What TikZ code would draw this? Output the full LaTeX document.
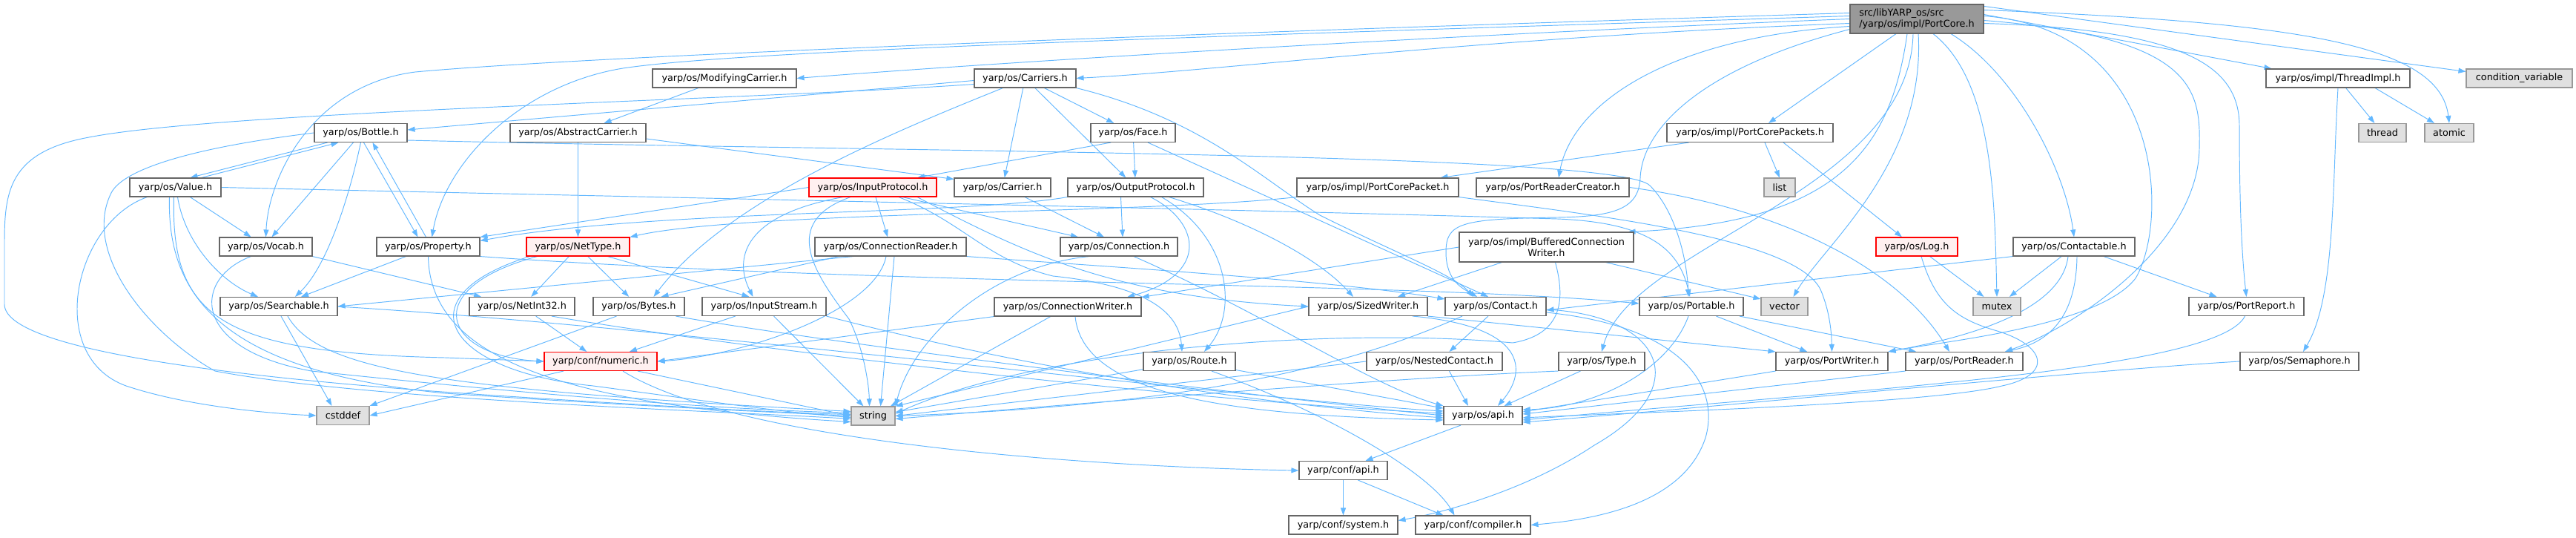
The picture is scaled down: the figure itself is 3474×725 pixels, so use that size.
\documentclass[tikz,border=0pt]{standalone}
\usepackage{fontspec}
\setmainfont{DejaVu Sans}
\usetikzlibrary{arrows.meta}
\pgfdeclarelayer{bg}
\pgfsetlayers{bg,main}
\definecolor{edgeblue}{HTML}{63B8FF}
\definecolor{bordergray}{HTML}{666666}
\definecolor{extfill}{HTML}{E0E0E0}
\definecolor{extborder}{HTML}{999999}
\definecolor{redfill}{HTML}{FFF0F0}
\definecolor{rootfill}{HTML}{999999}
\tikzset{
 box/.style={rectangle, inner xsep=3pt, inner ysep=0pt, minimum height=25pt, font=\fontsize{12.8}{15}\selectfont, line width=1.1pt},
 nd/.style={box, draw=bordergray, fill=white},
 ext/.style={box, draw=extborder, fill=extfill},
 redn/.style={box, draw=red, fill=redfill},
 rootn/.style={box, draw=bordergray, fill=rootfill},
 e/.style={draw=edgeblue, line width=0.95pt, -{Triangle[length=10pt,width=7pt]}},
}
\begin{document}
\begin{tikzpicture}[x=1pt,y=-1pt]
\begin{pgfonlayer}{bg}
\fill[white] (0,0) rectangle (3474,725);
\end{pgfonlayer}
\useasboundingbox (0,0) rectangle (3474,725);
% nodes
\node[rootn, minimum width=180pt, minimum height=39pt, align=left] (root) at (2585,25.5) {src/libYARP\_os/src\\/yarp/os/impl/PortCore.h};
\node[nd, minimum width=194pt] (modc) at (977,105.5) {yarp/os/ModifyingCarrier.h};
\node[nd, minimum width=137pt] (carriers) at (1382.5,105.5) {yarp/os/Carriers.h};
\node[nd, minimum width=194pt] (thimpl) at (3153,105.5) {yarp/os/impl/ThreadImpl.h};
\node[ext, minimum width=143pt] (condvar) at (3397.5,105.5) {condition\_variable};
\node[nd, minimum width=125pt] (bottle) at (486.5,179) {yarp/os/Bottle.h};
\node[nd, minimum width=183pt] (abscar) at (779.5,179) {yarp/os/AbstractCarrier.h};
\node[nd, minimum width=114pt] (face) at (1528,179) {yarp/os/Face.h};
\node[nd, minimum width=224pt] (pcps) at (2360,179) {yarp/os/impl/PortCorePackets.h};
\node[ext, minimum width=64pt] (thread) at (3213,179) {thread};
\node[ext, minimum width=66pt] (atomic) at (3303,179) {atomic};
\node[nd, minimum width=123pt] (value) at (236.5,252.5) {yarp/os/Value.h};
\node[redn, minimum width=172pt] (inproto) at (1177,252.5) {yarp/os/InputProtocol.h};
\node[nd, minimum width=130pt] (carrier) at (1352,252.5) {yarp/os/Carrier.h};
\node[nd, minimum width=183pt] (outproto) at (1531.5,252.5) {yarp/os/OutputProtocol.h};
\node[nd, minimum width=218pt] (pcp) at (1858,252.5) {yarp/os/impl/PortCorePacket.h};
\node[nd, minimum width=206pt] (prc) at (2094,252.5) {yarp/os/PortReaderCreator.h};
\node[ext, minimum width=42pt] (list) at (2400,252.5) {list};
\node[nd, minimum width=125pt] (vocab) at (358.5,332.5) {yarp/os/Vocab.h};
\node[nd, minimum width=139pt] (property) at (577.5,332.5) {yarp/os/Property.h};
\node[redn, minimum width=139pt] (nettype) at (779.5,332.5) {yarp/os/NetType.h};
\node[nd, minimum width=204pt] (connreader) at (1201,332.5) {yarp/os/ConnectionReader.h};
\node[nd, minimum width=158pt] (conn) at (1509,332.5) {yarp/os/Connection.h};
\node[nd, minimum width=235pt, minimum height=40pt, align=center] (bcw) at (2085.5,333) {yarp/os/impl/BufferedConnection\\Writer.h};
\node[redn, minimum width=110pt] (log) at (2585,332.5) {yarp/os/Log.h};
\node[nd, minimum width=164pt] (contactable) at (2797,332.5) {yarp/os/Contactable.h};
\node[nd, minimum width=158pt] (searchable) at (376,413) {yarp/os/Searchable.h};
\node[nd, minimum width=142pt] (netint) at (704,413) {yarp/os/NetInt32.h};
\node[nd, minimum width=123pt] (bytes) at (861.5,413) {yarp/os/Bytes.h};
\node[nd, minimum width=167pt] (instream) at (1030.5,413) {yarp/os/InputStream.h};
\node[nd, minimum width=198pt] (connwriter) at (1440,413.5) {yarp/os/ConnectionWriter.h};
\node[nd, minimum width=160pt] (sizedw) at (1845,413) {yarp/os/SizedWriter.h};
\node[nd, minimum width=136pt] (contact) at (2017,413) {yarp/os/Contact.h};
\node[nd, minimum width=140pt] (portable) at (2281,413) {yarp/os/Portable.h};
\node[ext, minimum width=63pt] (vector) at (2406.5,413) {vector};
\node[ext, minimum width=64pt] (mutex) at (2693,413) {mutex};
\node[nd, minimum width=155pt] (portreport) at (3029.5,413) {yarp/os/PortReport.h};
\node[redn, minimum width=152pt] (numeric) at (810,487) {yarp/conf/numeric.h};
\node[nd, minimum width=124pt] (route) at (1604,487) {yarp/os/Route.h};
\node[nd, minimum width=183pt] (nested) at (1934.5,487) {yarp/os/NestedContact.h};
\node[nd, minimum width=116pt] (type) at (2160,487) {yarp/os/Type.h};
\node[nd, minimum width=151pt] (portwriter) at (2470.5,487) {yarp/os/PortWriter.h};
\node[nd, minimum width=158pt] (portreader) at (2649,487) {yarp/os/PortReader.h};
\node[nd, minimum width=160pt] (semaphore) at (3101,487) {yarp/os/Semaphore.h};
\node[ext, minimum width=71pt] (cstddef) at (462.5,560) {cstddef};
\node[ext, minimum width=59pt] (string) at (1177.5,560.5) {string};
\node[nd, minimum width=106pt] (osapi) at (2000,560) {yarp/os/api.h};
\node[nd, minimum width=119pt] (confapi) at (1811.5,634) {yarp/conf/api.h};
\node[nd, minimum width=147pt] (system) at (1811.5,707.5) {yarp/conf/system.h};
\node[nd, minimum width=155pt] (compiler) at (1986.5,707.5) {yarp/conf/compiler.h};
% edges
\begin{pgfonlayer}{bg}
% root
\draw[e] ([yshift=8]root.west) .. controls (1600,45) and (800,75) .. (560,97) .. controls (420,115) and (362,240) .. (vocab.north);
\draw[e] ([yshift=4]root.west) .. controls (1600,50) and (1000,68) .. (840,92) .. controls (700,115) and (600,220) .. ([xshift=5]property.north);
\draw[e] (root.west) .. controls (2000,45) and (1400,80) .. (modc.east);
\draw[e] ([yshift=-6]root.west) .. controls (2000,50) and (1650,95) .. (carriers.east);
\draw[e] ([yshift=-10]root.west) .. controls (2250,50) and (2120,140) .. ([xshift=8]prc.north);
\draw[e] ([yshift=-14]root.west) .. controls (2300,90) and (2215,170) .. (2212,240) .. controls (2210,280) and (2180,292) .. (2100,293) .. controls (1970,295) and (1950,300) .. (1950,340) .. controls (1950,380) and (1975,390) .. ([xshift=-25]contact.north);
\draw[e] ([xshift=-28]root.south) -- ([xshift=25]pcps.north);
\draw[e] ([xshift=-13]root.south) .. controls (2550,200) and (2480,300) .. ([xshift=-8]bcw.north east);
\draw[e] ([xshift=-5]root.south) .. controls (2575,260) and (2200,330) .. (type.north);
\draw[e] ([xshift=2]root.south) .. controls (2597,220) and (2460,330) .. ([xshift=12]vector.north);
\draw[e] ([xshift=22]root.south) .. controls (2690,110) and (2690,280) .. (mutex.north);
\draw[e] ([xshift=46]root.south) .. controls (2720,100) and (2785,230) .. (contactable.north);
\draw[e] ([yshift=4]root.east) .. controls (2920,40) and (2925,300) .. (2880,375) .. controls (2830,440) and (2620,460) .. (portwriter.north east);
\draw[e] ([yshift=-2]root.east) .. controls (2960,50) and (2968,120) .. (2966,200) .. controls (2964,330) and (2800,440) .. ([xshift=55]portreader.north);
\draw[e] ([yshift=-6]root.east) .. controls (2950,40) and (3020,90) .. (3020,170) .. controls (3020,300) and (3025,360) .. (portreport.north);
\draw[e] ([yshift=6]root.east) -- ([xshift=8]thimpl.north west);
\draw[e] ([yshift=-3]root.north east) -- ([yshift=9]condvar.west);
\draw[e] ([yshift=12]root.east) .. controls (3100,30) and (3290,60) .. (atomic.north);
% row 1
\draw[e] (modc) -- (abscar);
\draw[e] ([yshift=-3]carriers.west) -- ([yshift=4]bottle.east);
\draw[e] ([yshift=-8]carriers.west) .. controls (1000,135) and (300,150) .. (120,185) .. controls (10,205) and (6,260) .. (6,330) -- (6,410) .. controls (6,470) and (300,510) .. (700,535) .. controls (900,548) and (1050,556) .. ([yshift=2]string.west);
\draw[e] ([xshift=-30]carriers.south) .. controls (1200,180) and (980,270) .. ([xshift=20]bytes.north);
\draw[e] (carriers) -- (carrier);
\draw[e] (carriers) -- (outproto);
\draw[e] (carriers) -- (face);
\draw[e] (carriers.south east) .. controls (1620,160) and (1700,240) .. (1780,290) .. controls (1880,340) and (1960,370) .. ([xshift=-30]contact.north);
\draw[e] (thimpl) -- (thread);
\draw[e] ([xshift=50]thimpl.south) -- ([xshift=-20]atomic.north);
\draw[e] (thimpl.south) .. controls (3145,250) and (3150,400) .. ([xshift=5]semaphore.north);
% row 2
\draw[e] ([xshift=-30]face.south) -- ([xshift=60]inproto.north);
\draw[e] (face) -- (outproto);
\draw[e] ([xshift=20]face.south) -- ([xshift=-10]contact.north);
\draw[e] ([xshift=-45]bottle.south) -- ([xshift=20]value.north);
\draw[e] ([xshift=35]value.north) -- ([xshift=-30]bottle.south);
\draw[e] ([xshift=-10]bottle.south) -- ([xshift=8]vocab.north);
\draw[e] (bottle.south) .. controls (470,270) and (440,360) .. ([xshift=22]searchable.north);
\draw[e] ([xshift=4]bottle.south) -- ([xshift=-14]property.north);
\draw[e] ([xshift=-3]property.north) -- ([xshift=16]bottle.south);
\draw[e] ([yshift=-10]bottle.east) .. controls (1200,205) and (2180,205) .. (2225,250) .. controls (2260,285) and (2275,350) .. ([xshift=-4]portable.north);
\draw[e] (bottle.west) .. controls (250,200) and (165,230) .. (150,260) .. controls (110,340) and (200,450) .. (290,500) .. controls (500,540) and (1000,555) .. ([yshift=-4]string.west);
\draw[e] (abscar) -- (nettype);
\draw[e] ([yshift=-8]abscar.east) -- ([yshift=-2]carrier.north west);
\draw[e] ([xshift=30]pcps.south west) -- ([xshift=-25]pcp.north east);
\draw[e] ([xshift=20]pcps.south) -- (list.north);
\draw[e] ([xshift=45]pcps.south) -- ([xshift=-20]log.north);
% row 3
\draw[e] ([xshift=-38]value.south) .. controls (100,300) and (60,480) .. (170,520) .. controls (260,550) and (380,558) .. (cstddef.west);
\draw[e] (value) -- (vocab);
\draw[e] ([xshift=3]value.south) .. controls (250,330) and (300,380) .. ([xshift=-28]searchable.north);
\draw[e] ([xshift=-8]value.south) .. controls (225,400) and (300,500) .. (600,530) .. controls (900,550) and (1100,558) .. (string.west);
\draw[e] ([xshift=-2]value.south) .. controls (230,430) and (300,475) .. (600,482) -- (numeric.west);
\draw[e] (value.east) .. controls (700,262) and (1600,280) .. (2100,295) .. controls (2230,300) and (2265,340) .. ([xshift=-2]portable.north);
\draw[e] (inproto.west) -- (property.north east);
\draw[e] (inproto) -- (connreader);
\draw[e] ([xshift=-40]inproto.south) .. controls (1000,290) and (990,350) .. ([xshift=-15]instream.north);
\draw[e] ([xshift=-30]inproto.south) .. controls (1050,300) and (1100,370) .. (1145,430) .. controls (1165,470) and (1172,520) .. ([xshift=-5]string.north);
\draw[e] ([xshift=40]inproto.south) -- ([xshift=-55]conn.north);
\draw[e] ([xshift=35]inproto.south) .. controls (1300,300) and (1330,350) .. (1420,372) .. controls (1545,385) and (1590,420) .. ([xshift=-10]route.north);
\draw[e] ([xshift=60]inproto.south) .. controls (1380,340) and (1500,400) .. (sizedw.west);
\draw[e] ([xshift=30]carrier.south) -- ([xshift=-20]conn.north);
\draw[e] ([xshift=-20]outproto.south) -- ([xshift=5]conn.north);
\draw[e] ([xshift=20]outproto.south) .. controls (1620,300) and (1630,370) .. ([xshift=80]connwriter.north);
\draw[e] ([xshift=35]outproto.south) .. controls (1660,320) and (1670,420) .. ([xshift=20]route.north);
\draw[e] ([xshift=45]outproto.south) .. controls (1690,300) and (1780,350) .. ([xshift=-20]sizedw.north);
\draw[e] (outproto.south west) .. controls (1300,290) and (880,282) .. ([yshift=-5]property.north east);
\draw[e] (pcp.south west) .. controls (1550,288) and (1000,285) .. (nettype.north east);
\draw[e] (pcp.south east) .. controls (2150,290) and (2420,320) .. (2455,390) .. controls (2468,420) and (2470,450) .. (portwriter.north);
\draw[e] (prc.east) .. controls (2400,280) and (2560,360) .. ([xshift=-20]portreader.north);
% row 4
\draw[e] (vocab.south east) -- ([xshift=-55]netint.north);
\draw[e] ([xshift=-20]vocab.south) .. controls (260,375) and (255,470) .. (420,500) .. controls (800,540) and (1000,552) .. ([yshift=4]string.west);
\draw[e] ([xshift=-30]property.south) -- ([xshift=30]searchable.north);
\draw[e] (property.south) .. controls (580,480) and (750,545) .. ([yshift=-8]string.west);
\draw[e] (property.south east) .. controls (1200,385) and (1900,380) .. ([yshift=4]portable.west);
\draw[e] (nettype) -- (netint);
\draw[e] (nettype) -- (bytes);
\draw[e] ([xshift=40]nettype.south) -- ([xshift=-20]instream.north);
\draw[e] ([xshift=-55]nettype.south) .. controls (560,390) and (600,480) .. (numeric.west);
\draw[e] ([xshift=-65]nettype.south) .. controls (540,400) and (600,500) .. (800,520) .. controls (950,540) and (1050,555) .. ([yshift=-2]string.west);
\draw[e] ([xshift=-50]connreader.south) -- (searchable.east);
\draw[e] ([xshift=-70]connreader.south) -- ([xshift=30]bytes.north);
\draw[e] ([xshift=-6]connreader.south) .. controls (1180,420) and (1000,480) .. (numeric.east);
\draw[e] ([xshift=5]connreader.south) -- ([xshift=10]string.north);
\draw[e] (connreader.south east) .. controls (1500,360) and (1800,378) .. ([yshift=-3]contact.north west);
\draw[e] ([xshift=-40]conn.south) .. controls (1330,360) and (1230,460) .. (string.north east);
\draw[e] ([xshift=20]conn.south) .. controls (1700,420) and (1850,520) .. (osapi.north west);
\draw[e] (bcw.west) -- (connwriter.north east);
\draw[e] ([xshift=-60]bcw.south) -- ([xshift=40]sizedw.north);
\draw[e] ([xshift=80]bcw.south) -- ([yshift=-3]vector.north west);
\draw[e] ([xshift=12]bcw.south) .. controls (2110,400) and (2110,450) .. (2040,462) .. controls (1800,440) and (1400,470) .. ([yshift=3]string.east);
\draw[e] (log) -- (mutex);
\draw[e] ([xshift=6]log.south) .. controls (2610,410) and (2640,430) .. (2690,445) .. controls (2760,465) and (2770,505) .. (2700,520) .. controls (2600,545) and (2200,556) .. ([yshift=-3]osapi.east);
\draw[e] (contactable.south west) -- ([yshift=-5]contact.east);
\draw[e] (contactable) -- (mutex);
\draw[e] ([xshift=-8]contactable.south) .. controls (2780,420) and (2650,455) .. (portwriter.north east);
\draw[e] ([xshift=4]contactable.south) .. controls (2800,420) and (2770,460) .. ([xshift=55]portreader.north);
\draw[e] ([xshift=40]contactable.south) -- ([xshift=-40]portreport.north);
% row 5
\draw[e] ([xshift=3]searchable.south) -- ([xshift=-15]cstddef.north);
\draw[e] ([xshift=12]searchable.south) .. controls (430,500) and (600,525) .. ([yshift=6]string.west);
\draw[e] (searchable.east) .. controls (900,440) and (1700,540) .. ([yshift=6]osapi.west);
\draw[e] (netint) -- (numeric);
\draw[e] ([xshift=40]netint.south) .. controls (1000,470) and (1600,540) .. ([yshift=3]osapi.west);
\draw[e] ([xshift=-30]bytes.south) -- (cstddef.north east);
\draw[e] ([xshift=50]bytes.south) .. controls (1100,460) and (1700,535) .. (osapi.west);
\draw[e] (instream) -- (numeric);
\draw[e] (instream) -- (string);
\draw[e] (instream.south east) .. controls (1400,500) and (1700,545) .. ([yshift=-3]osapi.west);
\draw[e] (connwriter.south west) -- (numeric.east);
\draw[e] (connwriter) -- (string);
\draw[e] ([xshift=10]connwriter.south) .. controls (1460,530) and (1650,560) .. ([yshift=-6]osapi.west);
\draw[e] (sizedw.south east) -- (portwriter.north west);
\draw[e] (sizedw.west) -- (string.north east);
\draw[e] ([xshift=60]sizedw.south) .. controls (2060,440) and (2060,500) .. ([xshift=20]osapi.north);
\draw[e] ([xshift=-10]contact.south) -- ([xshift=20]nested.north);
\draw[e] ([xshift=-45]contact.south) .. controls (1850,480) and (1650,545) .. (string.east);
\draw[e] ([yshift=-4]contact.east) .. controls (2240,425) and (2290,520) .. (2150,600) .. controls (2060,660) and (1950,690) .. ([yshift=6]system.east);
\draw[e] ([yshift=-8]contact.east) .. controls (2270,440) and (2320,520) .. (2300,590) .. controls (2270,680) and (2150,700) .. (compiler.east);
\draw[e] (portable) -- (portwriter);
\draw[e] (portable) -- (portreader);
\draw[e] ([xshift=-4]portable.south) .. controls (2250,500) and (2150,550) .. ([yshift=8]osapi.east);
\draw[e] ([xshift=-2]portreport.south) .. controls (2990,500) and (2500,525) .. ([yshift=-6]osapi.east);
% row 6
\draw[e] ([xshift=-50]numeric.south) -- (cstddef.east);
\draw[e] ([xshift=50]numeric.south) -- (string.west);
\draw[e] ([xshift=30]numeric.south) .. controls (1000,600) and (1500,630) .. (confapi.west);
\draw[e] (route) -- (osapi);
\draw[e] (route) -- (string);
\draw[e] ([xshift=30]route.south) .. controls (1800,560) and (1930,640) .. ([xshift=-25]compiler.north);
\draw[e] ([xshift=20]nested.south) -- ([xshift=-20]osapi.north);
\draw[e] (nested.west) -- (string.east);
\draw[e] (type) -- (osapi);
\draw[e] (type.south west) .. controls (1900,508) and (1500,540) .. ([yshift=-4]string.east);
\draw[e] (portwriter.south west) -- ([yshift=5]osapi.east);
\draw[e] (portreader.south west) -- ([yshift=2]osapi.east);
\draw[e] (semaphore.west) .. controls (2800,500) and (2300,550) .. ([yshift=-9]osapi.east);
% rows 7-8
\draw[e] ([xshift=-30]osapi.south) -- ([xshift=30]confapi.north);
\draw[e] (confapi) -- (system);
\draw[e] ([xshift=20]confapi.south) -- ([xshift=-40]compiler.north);
\end{pgfonlayer}
\end{tikzpicture}
\end{document}
